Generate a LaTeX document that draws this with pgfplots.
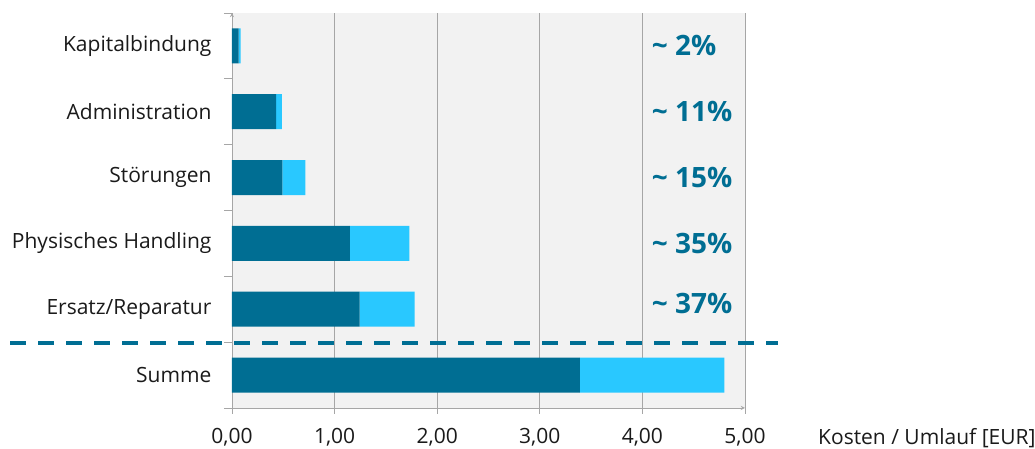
\documentclass[border=0pt]{standalone}
\usepackage{pgfplots}
\pgfplotsset{compat=1.18}
\usepackage{fontspec}
\setmainfont{Open Sans}
\definecolor{darkteal}{HTML}{006E93}
\definecolor{lightcyan}{HTML}{29C8FF}
\definecolor{gridgray}{HTML}{A6A6A6}
\definecolor{bggray}{HTML}{F2F2F2}
\definecolor{labelblack}{HTML}{1A1A1A}
\tikzset{pct/.style={anchor=west, text=darkteal, font=\fontsize{28}{32}\selectfont\bfseries, inner sep=0pt}}

\begin{document}
\begin{tikzpicture}
\begin{axis}[
  name=ax, at={(0,0)}, anchor=south west,
  scale only axis,
  width=513pt, height=395pt,
  xbar stacked,
  bar width=35pt,
  xmin=0, xmax=5,
  ymin=-0.5, ymax=5.5,
  axis x line=bottom, axis y line=left,
  axis line style={gridgray, line width=0.9pt},
  axis background/.style={fill=bggray},
  xtick={0,1,2,3,4,5},
  xmajorgrids,
  grid style={gridgray, line width=0.9pt},
  tick align=outside,
  tick style={gridgray, line width=0.9pt},
  major tick length=6pt,
  ytick={0,1,2,3,4,5},
  yticklabels={Summe,Ersatz/Reparatur,Physisches Handling,Störungen,Administration,Kapitalbindung},
  ytick style={draw=none},
  extra y ticks={-0.5,0.5,1.5,2.5,3.5,4.5,5.5},
  extra y tick labels={},
  extra y tick style={ytick style={draw=gridgray}, major tick length=8pt},
  yticklabel style={font=\fontsize{21}{24}\selectfont, text=labelblack, xshift=-11pt},
  xticklabel style={font=\fontsize{21}{24}\selectfont, text=labelblack, yshift=-11pt},
  /pgf/number format/fixed,
  /pgf/number format/fixed zerofill,
  /pgf/number format/precision=2,
  /pgf/number format/use comma,
  /pgf/number format/assume math mode=true,
  clip=false,
]
% rows from bottom (0) to top (5)
\addplot[fill=darkteal, draw=none] table[x=dark, y=y] {
y dark
0 3.39
1 1.245
2 1.15
3 0.49
4 0.43
5 0.065
};
\addplot[fill=lightcyan, draw=none] table[x=light, y=y] {
y light
0 1.41
1 0.535
2 0.58
3 0.225
4 0.055
5 0.02
};

\draw[darkteal, line width=4pt, dash pattern=on 16pt off 12pt] (axis cs:-2.16,0.49) -- (axis cs:5.32,0.49);

\node[pct] at (axis cs:4.09,5) {\char"7E\ 2\%};
\node[pct] at (axis cs:4.09,4) {\char"7E\ 11\%};
\node[pct] at (axis cs:4.09,3) {\char"7E\ 15\%};
\node[pct] at (axis cs:4.09,2) {\char"7E\ 35\%};
\node[pct] at (axis cs:4.09,1.08) {\char"7E\ 37\%};
\end{axis}
\node[anchor=base west, text=labelblack, font=\fontsize{21}{24}\selectfont, inner sep=0pt]
  at ([xshift=73pt, yshift=-37pt]ax.south east) {Kosten / Umlauf [EUR]};
\pgfresetboundingbox
\path (ax.south west) ++(-232pt,-41pt) rectangle ++(1035pt,449pt);
\end{tikzpicture}
\end{document}
